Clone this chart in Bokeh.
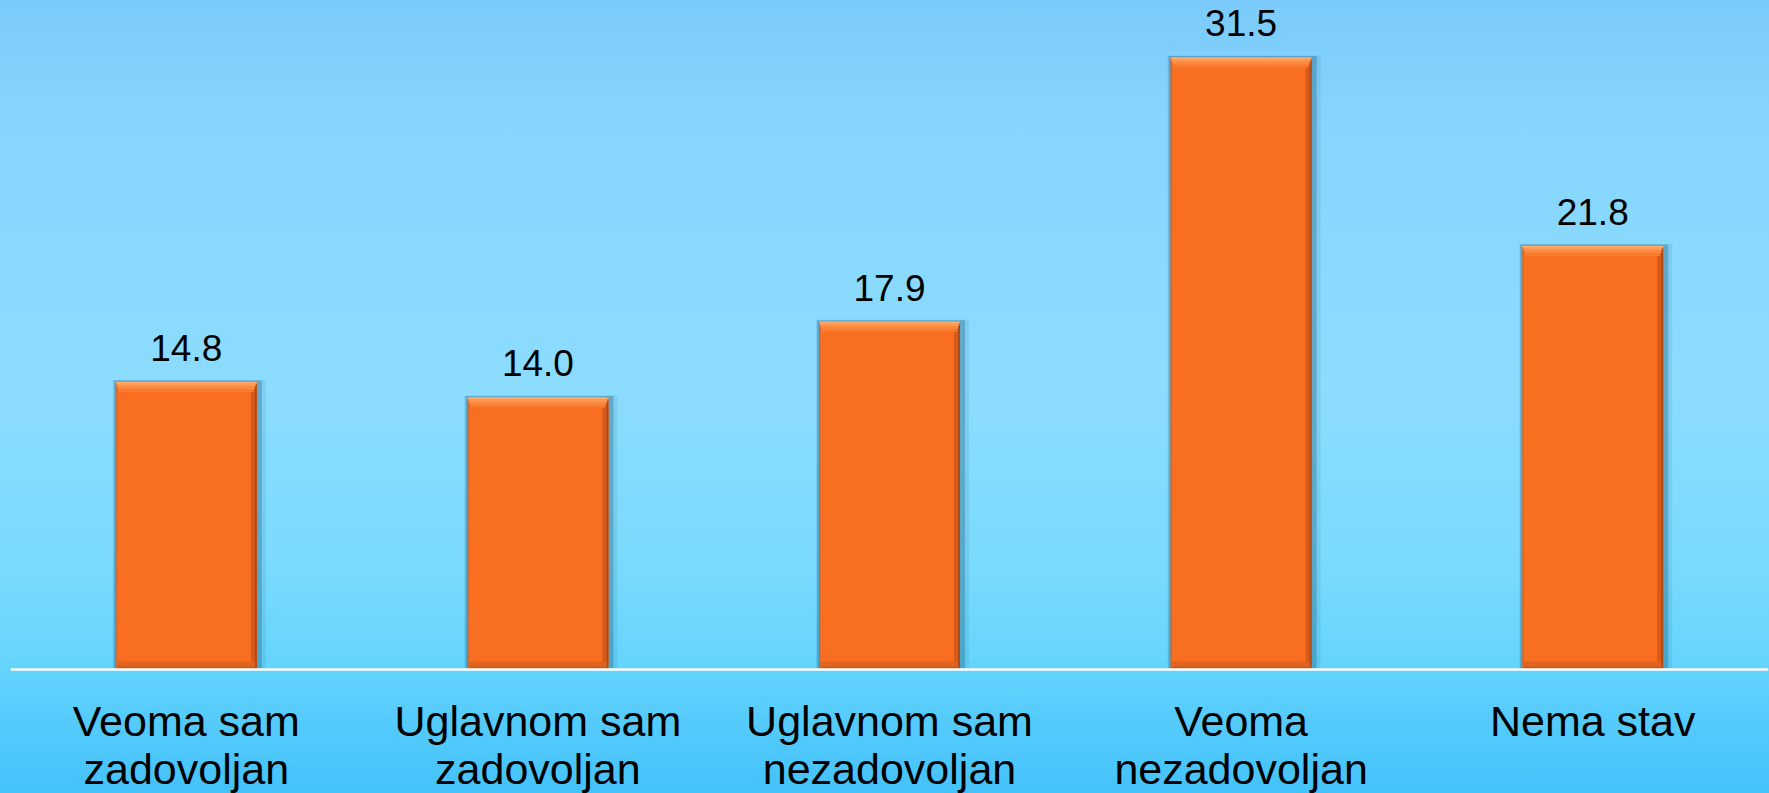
from bokeh.plotting import figure
from bokeh.models import ColumnDataSource, FactorRange, Range1d, GlobalInlineStyleSheet
from bokeh.transform import dodge
from bokeh.core.properties import value
from bokeh.embed import file_html
from bokeh.resources import INLINE

# ---- data ----
categories = ["Veoma sam\nzadovoljan", "Uglavnom sam\nzadovoljan",
              "Uglavnom sam\nnezadovoljan", "Veoma\nnezadovoljan", "Nema stav"]
values = [14.8, 14.0, 17.9, 31.5, 21.8]
labels = [f"{v:.1f}" for v in values]

# ---- layout constants ----
W, H = 1769, 793
BORDER_L, BORDER_R = 10, 1
frame_w = W - BORDER_L - BORDER_R
BASE_Y = 669.0                      # pixel row of the zero line inside the figure
PX_PER_UNIT = 19.43
Y_END = BASE_Y / PX_PER_UNIT
Y_START = -(H - BASE_Y) / PX_PER_UNIT
PX_X = 1.0 / (frame_w / len(categories))   # category units per px
PX_Y = 1.0 / PX_PER_UNIT                   # value units per px
BAR_W = 0.401

src = ColumnDataSource(dict(cat=categories, val=values, lab=labels))

bg_css = """
html { background: linear-gradient(to bottom,
        #7acafb 0px, #86d5fe 120px, #8cdcfe 380px, #7bdafd 560px,
        #64d4fd 669px, #55cbfb 720px, #44c2fa 793px) fixed; }
body { background: transparent; }
"""

p = figure(width=W, height=H, x_range=FactorRange(*categories),
           y_range=Range1d(Y_START, Y_END), output_backend="svg",
           toolbar_location=None, min_border_left=BORDER_L,
           min_border_right=BORDER_R, min_border_top=0,
           min_border_bottom=0)
p.stylesheets = [GlobalInlineStyleSheet(css=bg_css)]
p.background_fill_alpha = 0
p.border_fill_alpha = 0
p.outline_line_color = None
p.xgrid.grid_line_color = None
p.ygrid.grid_line_color = None
p.yaxis.visible = False

# shadow
p.vbar(x=dodge("cat", 1.5 * PX_X, range=p.x_range), top=dodge("val", 1.5 * PX_Y),
       bottom=0, width=BAR_W + 7 * PX_X, fill_color="#1d5a7a", fill_alpha=0.30,
       line_color=None, source=src)
p.vbar(x=dodge("cat", 3 * PX_X, range=p.x_range), top=dodge("val", 2 * PX_Y),
       bottom=0, width=BAR_W + 12 * PX_X, fill_color="#1d5a7a", fill_alpha=0.10,
       line_color=None, source=src)
# main bar
p.vbar(x="cat", top="val", bottom=0, width=BAR_W, fill_color="#f96f21",
       line_color=None, source=src)
# left thin edge
p.vbar(x=dodge("cat", -BAR_W / 2 + 0.75 * PX_X, range=p.x_range), top="val", bottom=0,
       width=1.5 * PX_X, fill_color="#9a6a55", fill_alpha=0.6, line_color=None, source=src)
# right bevel (dark)
p.vbar(x=dodge("cat", BAR_W / 2 - 3 * PX_X, range=p.x_range), top=dodge("val", -7 * PX_Y),
       bottom=6 * PX_Y, width=6 * PX_X, fill_color="#d85a1b", line_color=None, source=src)
p.vbar(x=dodge("cat", BAR_W / 2 - 1 * PX_X, range=p.x_range), top=dodge("val", -2 * PX_Y),
       bottom=0, width=2 * PX_X, fill_color="#b24a17", line_color=None, source=src)
# bottom bevel
p.vbar(x="cat", top=8 * PX_Y, bottom=0, width=BAR_W - 4 * PX_X,
       fill_color="#e0631e", line_color=None, source=src)
p.vbar(x="cat", top=3 * PX_Y, bottom=0, width=BAR_W - 2 * PX_X,
       fill_color="#cf5a1b", line_color=None, source=src)
# top bevel (light)
p.vbar(x="cat", top="val", bottom=dodge("val", -10 * PX_Y), width=BAR_W - 6 * PX_X,
       fill_color="#fa7b2e", line_color=None, source=src)
p.vbar(x="cat", top="val", bottom=dodge("val", -7 * PX_Y), width=BAR_W - 4 * PX_X,
       fill_color="#fb8a3f", line_color=None, source=src)
p.vbar(x="cat", top="val", bottom=dodge("val", -4 * PX_Y), width=BAR_W - 2 * PX_X,
       fill_color="#fc9a55", line_color=None, source=src)
p.vbar(x="cat", top="val", bottom=dodge("val", -1.5 * PX_Y), width=BAR_W,
       fill_color="#feac6e", line_color=None, source=src)

# value labels
p.text(x="cat", y="val", text="lab", source=src, text_align="center",
       text_baseline="alphabetic", y_offset=-34, text_color="black",
       text_font=value("Liberation Sans"), text_font_size="37px")

# x axis, fixed at the zero line
ax = p.xaxis[0]
ax.fixed_location = 0
ax.axis_line_color = "white"
ax.axis_line_width = 2.5
ax.major_tick_line_color = None
ax.minor_tick_line_color = None
ax.major_tick_in = 0
ax.major_tick_out = 0
ax.major_label_standoff = 27
ax.major_label_text_font = "Liberation Sans"
ax.major_label_text_font_size = "43px"
ax.major_label_text_color = "black"
ax.major_label_text_line_height = 1.01
ax.major_label_orientation = "horizontal"

open("out.html", "w").write(file_html(p, INLINE))
